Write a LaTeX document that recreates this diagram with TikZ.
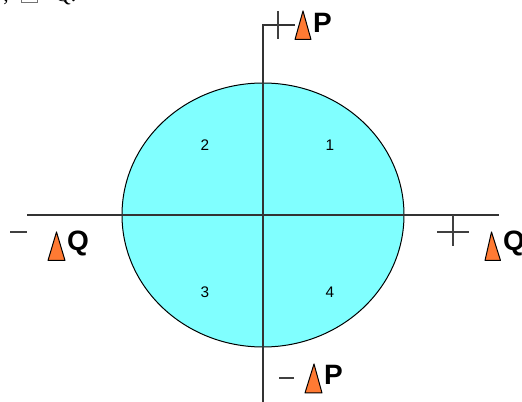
\documentclass[tikz,border=0pt]{standalone}
\usepackage{fontspec}
\setmainfont{Liberation Sans}
\newfontfamily\serifcut{Liberation Serif}
\definecolor{discfill}{RGB}{128,255,255}
\definecolor{conefill}{RGB}{255,122,51}
\tikzset{
  axisline/.style={draw=black!80,line width=1.0pt},
  markline/.style={draw=black!75,line width=0.9pt},
  disc/.style={fill=discfill,draw=black,line width=0.75pt},
  cone/.style={fill=conefill,draw=black,line width=0.75pt,line join=round},
  biglabel/.style={font=\fontsize{21pt}{22pt}\selectfont\bfseries,inner sep=0pt,text=black},
  numlabel/.style={font=\fontsize{11.5pt}{13pt}\selectfont,inner sep=0pt,text=black},
  cuttext/.style={font=\serifcut\fontsize{16pt}{18pt}\selectfont,inner sep=0pt,anchor=base west}
}
\begin{document}
\begin{tikzpicture}[x=0.75pt,y=-0.75pt]
\useasboundingbox (0,0) rectangle (522,402);
\clip (0,0) rectangle (522,402);
\fill[white] (0,0) rectangle (522,402);
% cut-off text line at the top
\node[cuttext] (topa) at (3,2) {,};
\node[cuttext] (topb) at (55,2) {Q:};
\draw[black!55,line width=0.6pt] (21,-6) rectangle (37,2);
% disc
\path[disc] (263,215) ellipse [x radius=141,y radius=132];
% axes
\coordinate (ptop) at (295,25);
\coordinate (vtop) at (263,25);
\coordinate (vbot) at (263,402);
\coordinate (hl) at (27,215);
\coordinate (hr) at (499,215);
\draw[axisline] (ptop) -- (vtop) -- (vbot);
\draw[axisline] (hl) -- (hr);
% plus / minus signs
\draw[markline] (278,11) -- (278,39);
\draw[markline] (437,232) -- (469,232);
\draw[markline] (453,215) -- (453,246);
\draw[markline] (10,232) -- (27,232);
\draw[markline] (279,378) -- (294,378);
% cones
\draw[cone] (303,11) -- (311,39.5) -- (295,39.5) -- cycle;
\draw[cone] (56.5,232) -- (65,260.5) -- (48,260.5) -- cycle;
\draw[cone] (491.5,232) -- (500.5,260.5) -- (485,260.5) -- cycle;
\draw[cone] (314,364) -- (322,393) -- (305,393) -- cycle;
% labels
\node[biglabel,anchor=center] (lp1) at (322.5,22.5) {P};
\node[biglabel,anchor=center] (lq1) at (78,243) {Q};
\node[biglabel,anchor=center] (lq2) at (514,243) {Q};
\node[biglabel,anchor=center] (lp2) at (333.5,375) {P};
\node[numlabel] (n1) at (330,145) {1};
\node[numlabel] (n2) at (205,145) {2};
\node[numlabel] (n3) at (205,292) {3};
\node[numlabel] (n4) at (330,292) {4};
\end{tikzpicture}
\end{document}
